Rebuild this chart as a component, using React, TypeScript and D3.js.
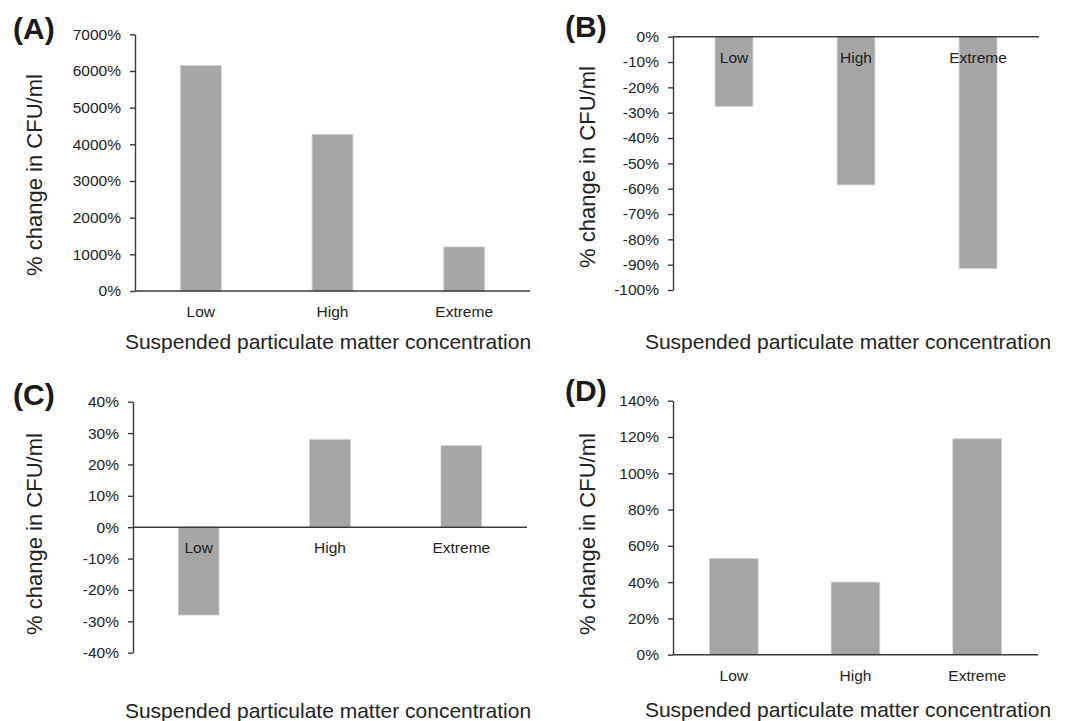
import { useEffect, useRef } from 'react';
import * as d3 from 'd3';

const categories = ['Low', 'High', 'Extreme'];

const valuesA = [6150, 4270, 1200];
const valuesB = [-27.5, -58.5, -91.5];
const valuesC = [-28, 28, 26];
const valuesD = [53, 40, 119];

const ticksA = [0, 1000, 2000, 3000, 4000, 5000, 6000, 7000];
const ticksB = [0, -10, -20, -30, -40, -50, -60, -70, -80, -90, -100];
const ticksC = [40, 30, 20, 10, 0, -10, -20, -30, -40];
const ticksD = [0, 20, 40, 60, 80, 100, 120, 140];

const panelLetters = ['(A)', '(B)', '(C)', '(D)'];
const yTitle = '% change in CFU/ml';
const xTitle = 'Suspended particulate matter concentration';

interface Panel {
  letter: string;
  values: number[];
  ticks: number[];
  domain: [number, number];
  x: [number, number];
  y: [number, number];
  padding: number;
  letterPos: [number, number];
  yTitlePos: [number, number];
  xTitlePos: [number, number];
}

const FONT = 'Arial, "Liberation Sans", Helvetica, sans-serif';

export default function App() {
  const svgRef = useRef<SVGSVGElement>(null);

  useEffect(() => {
    if (!svgRef.current) return;
    const svg = d3.select(svgRef.current);
    svg.selectAll('*').remove();

    const panels: Panel[] = [
      { letter: panelLetters[0], values: valuesA, ticks: ticksA, domain: [0, 7000], x: [135, 530], y: [291, 34.3], padding: 0.69, letterPos: [13, 39], yTitlePos: [42, 175], xTitlePos: [328, 349] },
      { letter: panelLetters[1], values: valuesB, ticks: ticksB, domain: [-100, 0], x: [673, 1039], y: [290, 36.7], padding: 0.69, letterPos: [565, 37], yTitlePos: [595, 167], xTitlePos: [848, 349] },
      { letter: panelLetters[2], values: valuesC, ticks: ticksC, domain: [-40, 40], x: [133, 527], y: [652.7, 401.7], padding: 0.69, letterPos: [13, 405], yTitlePos: [42, 534], xTitlePos: [328, 718] },
      { letter: panelLetters[3], values: valuesD, ticks: ticksD, domain: [0, 140], x: [673, 1038], y: [654.7, 400.7], padding: 0.6, letterPos: [565, 401], yTitlePos: [595, 534], xTitlePos: [848, 717] },
    ];

    panels.forEach(p => {
      const g = svg.append('g');

      const xScale = d3.scaleBand<string>()
        .domain(categories)
        .range(p.x)
        .paddingInner(p.padding)
        .paddingOuter(p.padding / 2);

      const yScale = d3.scaleLinear().domain(p.domain).range(p.y);
      const y0 = yScale(0);

      // bars
      g.selectAll('.bar')
        .data(p.values)
        .enter()
        .append('rect')
        .attr('class', 'bar')
        .attr('x', (_, i) => xScale(categories[i]) as number)
        .attr('width', xScale.bandwidth())
        .attr('y', d => Math.min(yScale(d), y0))
        .attr('height', d => Math.abs(yScale(d) - y0))
        .attr('fill', '#a6a6a6')
        .attr('stroke', '#cfcfcf')
        .attr('stroke-width', 0.8);

      // y axis
      const yAxis = g.append('g')
        .attr('transform', `translate(${p.x[0]},0)`)
        .call(
          d3.axisLeft(yScale)
            .tickValues(p.ticks)
            .tickSize(5)
            .tickSizeOuter(0)
            .tickPadding(9)
            .tickFormat(d => `${d}%`)
        );

      yAxis.selectAll('text')
        .style('fill', '#222')
        .style('font-size', '15.5px')
        .style('font-family', FONT);

      yAxis.selectAll('path, line')
        .style('stroke', '#3a3a3a')
        .style('stroke-width', 1.4);

      // zero line
      g.append('line')
        .attr('x1', p.x[0])
        .attr('x2', p.x[1])
        .attr('y1', y0)
        .attr('y2', y0)
        .attr('stroke', '#3a3a3a')
        .attr('stroke-width', 1.6);

      // category labels
      g.selectAll('.cat')
        .data(categories)
        .enter()
        .append('text')
        .attr('class', 'cat')
        .attr('x', d => (xScale(d) as number) + xScale.bandwidth() / 2)
        .attr('y', y0 + 26)
        .attr('text-anchor', 'middle')
        .attr('fill', '#222')
        .attr('font-size', '15.5px')
        .attr('font-family', FONT)
        .text(d => d);

      // panel letter
      g.append('text')
        .attr('x', p.letterPos[0])
        .attr('y', p.letterPos[1])
        .attr('font-size', '30px')
        .attr('font-weight', 'bold')
        .attr('font-family', FONT)
        .attr('fill', '#1a1a1a')
        .text(p.letter);

      // axis titles
      g.append('text')
        .attr('transform', `translate(${p.yTitlePos[0]},${p.yTitlePos[1]}) rotate(-90)`)
        .attr('text-anchor', 'middle')
        .attr('font-size', '22px')
        .attr('font-family', FONT)
        .attr('fill', '#222')
        .text(yTitle);

      g.append('text')
        .attr('x', p.xTitlePos[0])
        .attr('y', p.xTitlePos[1])
        .attr('text-anchor', 'middle')
        .attr('font-size', '21px')
        .attr('font-family', FONT)
        .attr('fill', '#222')
        .text(xTitle);
    });
  }, []);

  return (
    <svg
      ref={svgRef}
      width={1075}
      height={721}
      style={{ position: 'absolute', left: 0, top: 0, background: '#fff' }}
    />
  );
}
